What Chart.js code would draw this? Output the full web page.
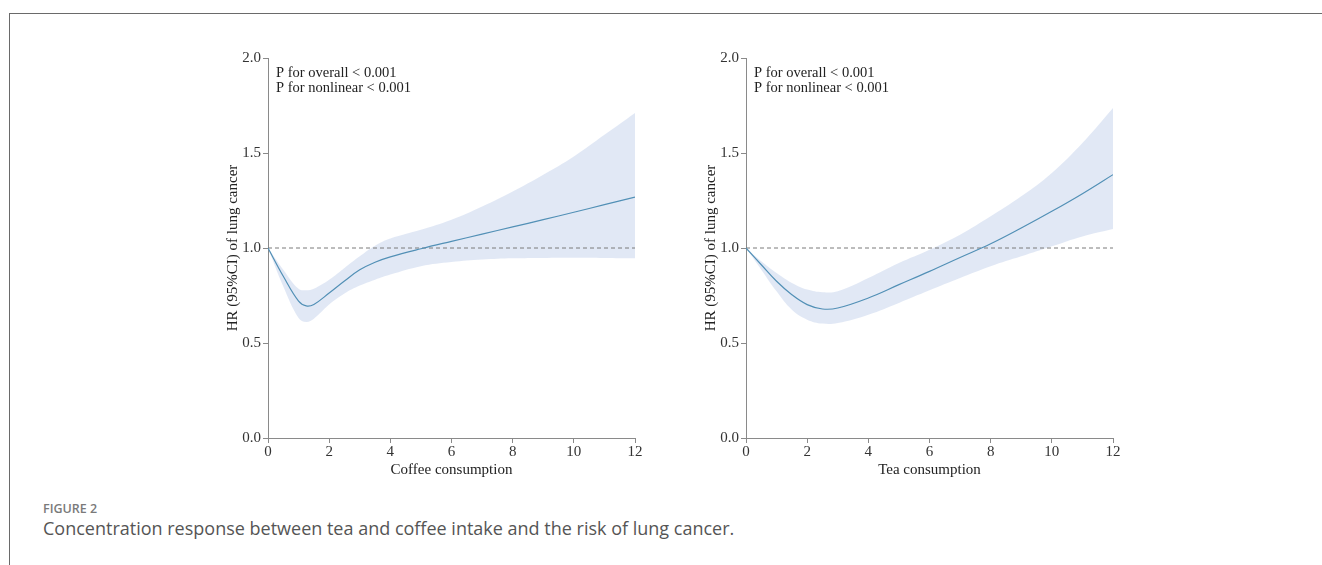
<!DOCTYPE html>
<html>
<head>
<meta charset="utf-8">
<script src="https://cdn.jsdelivr.net/npm/chart.js@4"></script>
<style>
  body { margin: 0; width: 1322px; height: 565px; background: #fff; position: relative; overflow: hidden; }
  .frame { position: absolute; left: 9px; top: 13px; right: -2px; bottom: -2px; border-top: 1.5px solid #6a6a6a; border-left: 1.5px solid #6a6a6a; }
  .box { position: absolute; top: 40px; width: 460px; height: 450px; }
  .fig { position: absolute; left: 43px; top: 502px; line-height: 14px; font-family: "Open Sans", sans-serif; font-weight: 600; font-size: 12.5px; color: #7a7a7a; }
  .cap { position: absolute; left: 43px; top: 518px; line-height: 20px; font-family: "Open Sans", sans-serif; font-size: 18px; color: #555; }
</style>
</head>
<body>
<div class="frame"></div>
<div class="box" style="left:200px"><canvas id="coffee"></canvas></div>
<div class="box" style="left:680px"><canvas id="tea"></canvas></div>
<div class="fig">FIGURE 2</div>
<div class="cap">Concentration response between tea and coffee intake and the risk of lung cancer.</div>
<script>
  "use strict";

  const coffeeX = [0, 0.5, 1, 1.25, 1.5, 2, 2.5, 3, 3.5, 4, 5, 6, 7, 8, 9, 10, 11, 12];
  const coffeeHR = [1.0, 0.851, 0.72, 0.695, 0.703, 0.763, 0.826, 0.885, 0.925, 0.953, 0.996, 1.035, 1.073, 1.111, 1.149, 1.188, 1.228, 1.268];
  const coffeeUpper = [1.0, 0.886, 0.785, 0.778, 0.786, 0.833, 0.895, 0.956, 1.012, 1.05, 1.096, 1.149, 1.219, 1.298, 1.386, 1.482, 1.596, 1.711];
  const coffeeLower = [1.0, 0.798, 0.632, 0.611, 0.628, 0.702, 0.76, 0.802, 0.833, 0.86, 0.904, 0.926, 0.939, 0.946, 0.948, 0.949, 0.948, 0.946];

  const teaX = [0, 0.5, 1, 1.5, 2, 2.5, 3, 4, 5, 6, 7, 8, 9, 10, 11, 12];
  const teaHR = [1.0, 0.912, 0.825, 0.754, 0.702, 0.679, 0.684, 0.737, 0.807, 0.877, 0.95, 1.022, 1.105, 1.193, 1.286, 1.386];
  const teaUpper = [1.0, 0.93, 0.868, 0.816, 0.781, 0.767, 0.772, 0.842, 0.921, 0.991, 1.07, 1.167, 1.272, 1.395, 1.553, 1.737];
  const teaLower = [1.0, 0.886, 0.772, 0.675, 0.623, 0.602, 0.605, 0.649, 0.711, 0.777, 0.842, 0.904, 0.956, 1.009, 1.061, 1.1];

  const refX = [0, 12];
  const refY = [1, 1];
  const yTicks = [0, 0.5, 1.0, 1.5, 2.0];
  const xTicks = [0, 2, 4, 6, 8, 10, 12];
  const pLines = ["P for overall < 0.001", "P for nonlinear < 0.001"];

  const serif = "'Liberation Serif', 'Times New Roman', serif";
  const axisGray = "#8a8a8a";

  const pts = (xs, ys) => xs.map((x, i) => ({ x: x, y: ys[i] }));

  // p-value notes in the top left corner of each plot
  const pText = {
    id: "pText",
    afterDraw(chart) {
      const ctx = chart.ctx;
      const a = chart.chartArea;
      ctx.save();
      ctx.fillStyle = "#222";
      ctx.font = "14.5px " + serif;
      ctx.textBaseline = "middle";
      pLines.forEach((t, i) => ctx.fillText(t, a.left + 8, a.top + 15 + i * 15));
      ctx.restore();
    },
  };

  function makeChart(id, xs, hr, up, lo, xTitle, padLeft, padRight) {
    return new Chart(document.getElementById(id), {
      type: "line",
      data: {
        datasets: [
          {
            data: pts(xs, hr),
            borderColor: "#5290b6",
            borderWidth: 1.2,
            pointRadius: 0,
            fill: false,
            tension: 0.4,
          },
          {
            data: pts(refX, refY),
            borderColor: "#7a7a7a",
            borderWidth: 1,
            borderDash: [4, 3],
            pointRadius: 0,
            fill: false,
          },
          {
            data: pts(xs, up),
            borderWidth: 0,
            pointRadius: 0,
            backgroundColor: "rgba(218,226,243,0.8)",
            fill: "+1",
            tension: 0.4,
          },
          {
            data: pts(xs, lo),
            borderWidth: 0,
            pointRadius: 0,
            fill: false,
            tension: 0.4,
          },
        ],
      },
      options: {
        animation: false,
        responsive: true,
        maintainAspectRatio: false,
        layout: { padding: { top: 18, right: padRight, left: padLeft, bottom: 11 } },
        plugins: { legend: { display: false }, tooltip: { enabled: false } },
        scales: {
          x: {
            type: "linear",
            min: 0,
            max: 12,
            afterBuildTicks: (s) => { s.ticks = xTicks.map((v) => ({ value: v })); },
            afterFit: (s) => { s.height = 41; },
            grid: { drawOnChartArea: false, color: axisGray, tickLength: 5 },
            border: { color: axisGray, width: 1 },
            ticks: { color: "#333", font: { family: serif, size: 15 }, padding: 0, maxRotation: 0 },
            title: { display: true, text: xTitle, color: "#222", font: { family: serif, size: 15 }, padding: 0 },
          },
          y: {
            min: 0,
            max: 2,
            afterBuildTicks: (s) => { s.ticks = yTicks.map((v) => ({ value: v })); },
            afterFit: (s) => { s.width = 44; },
            grid: { drawOnChartArea: false, color: axisGray, tickLength: 5 },
            border: { color: axisGray, width: 1 },
            ticks: { color: "#333", font: { family: serif, size: 15 }, padding: 2, callback: (v) => Number(v).toFixed(1) },
            title: { display: true, text: "HR (95%CI) of lung cancer", color: "#222", font: { family: serif, size: 15 }, padding: 0 },
          },
        },
      },
      plugins: [pText],
    });
  }

  makeChart("coffee", coffeeX, coffeeHR, coffeeUpper, coffeeLower, "Coffee consumption", 24, 25);
  makeChart("tea", teaX, teaHR, teaUpper, teaLower, "Tea consumption", 22, 27);
</script>
</body>
</html>
